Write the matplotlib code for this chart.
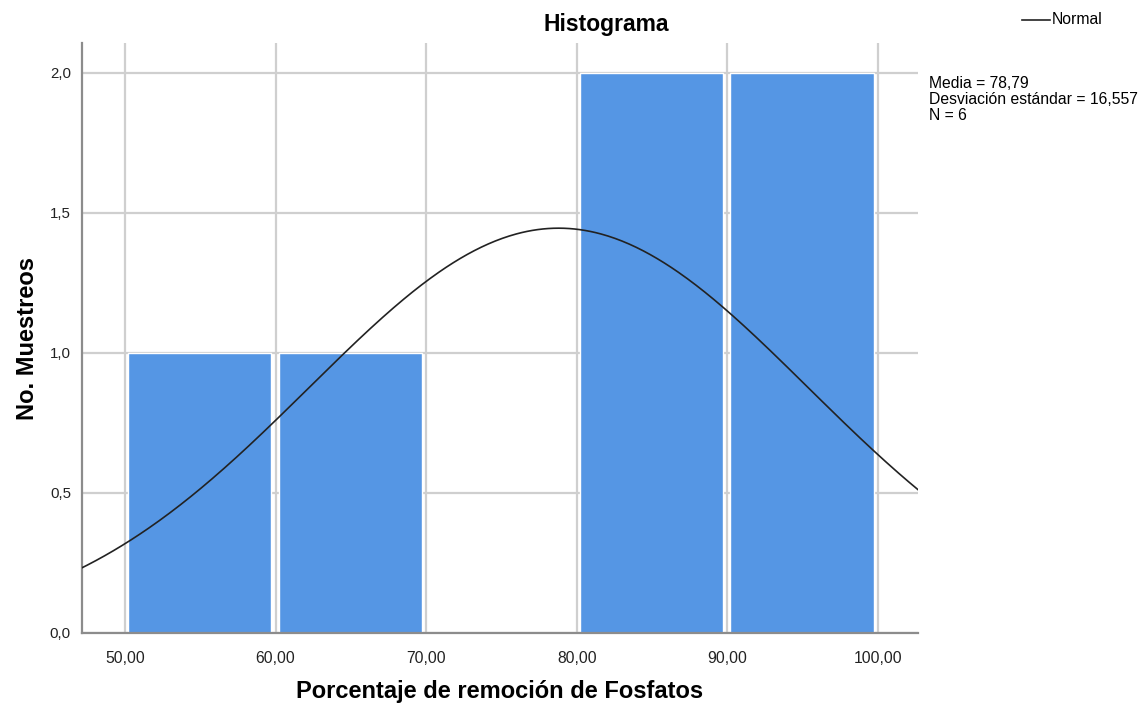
import numpy as np
import matplotlib
matplotlib.use("Agg")
import matplotlib.pyplot as plt
from matplotlib.lines import Line2D
from matplotlib.ticker import FuncFormatter

plt.rcParams['font.family'] = ['Liberation Sans', 'DejaVu Sans']

# Histogram data
bin_edges = [50, 60, 70, 80, 90, 100]
counts = [1, 1, 0, 2, 2]
mean = 78.79
std = 16.557
n = 6

x_ticks = [50, 60, 70, 80, 90, 100]
y_ticks = [0.0, 0.5, 1.0, 1.5, 2.0]

bar_color = '#5596e4'
grid_color = '#cfcfcf'
spine_color = '#8c8c8c'

fig = plt.figure(figsize=(11.43, 7.06), dpi=100)
ax = fig.add_axes([82 / 1143, 73 / 706, (918 - 82) / 1143, (633 - 43) / 706])

ax.set_xlim(47.15, 102.65)
ax.set_ylim(0, 2.107)

# grid behind the bars
ax.set_axisbelow(True)
ax.grid(True, color=grid_color, linewidth=1.6)

# bars, slightly inset inside each bin
lefts = np.array(bin_edges[:-1], dtype=float)
widths = np.diff(bin_edges).astype(float)
ax.bar(lefts + 0.2, counts, width=widths - 0.5, align='edge',
       color=bar_color, edgecolor='white', linewidth=1.0, zorder=2)

# fitted normal curve scaled to counts
bw = widths[0]
xs = np.linspace(40, 110, 600)
ys = n * bw / (std * np.sqrt(2 * np.pi)) * np.exp(-0.5 * ((xs - mean) / std) ** 2)
ax.plot(xs, ys, color='#222222', linewidth=1.2, zorder=3)

ax.set_xticks(x_ticks)
ax.set_yticks(y_ticks)
ax.xaxis.set_major_formatter(FuncFormatter(lambda v, p: f"{v:.2f}".replace('.', ',')))
ax.yaxis.set_major_formatter(FuncFormatter(lambda v, p: f"{v:.1f}".replace('.', ',')))
ax.tick_params(axis='both', length=0, colors='#222222')
ax.tick_params(axis='x', pad=13, labelsize=11.3)
ax.tick_params(axis='y', pad=8, labelsize=10.8)

for side in ['top', 'right']:
    ax.spines[side].set_visible(False)
for side in ['left', 'bottom']:
    ax.spines[side].set_color(spine_color)
    ax.spines[side].set_linewidth(1.6)

ax.set_xlabel('Porcentaje de remoción de Fosfatos', fontsize=17, fontweight='bold',
              labelpad=10)
ax.set_ylabel('No. Muestreos', fontsize=17, fontweight='bold', labelpad=8)

fig.text(606 / 1143, 1 - 25 / 706, 'Histograma', ha='center', va='center',
         fontsize=16.5, fontweight='bold')

# legend entry for the normal curve
fig.add_artist(Line2D([1022 / 1143, 1050 / 1143], [1 - 20 / 706, 1 - 20 / 706],
                      color='#222222', linewidth=1.2))
fig.text(1052 / 1143, 1 - 20 / 706, 'Normal', ha='left', va='center', fontsize=11.3)

# summary statistics
stats = (f"Media = {mean:.2f}".replace('.', ',') + "\n" +
         f"Desviación estándar = {std:.3f}".replace('.', ',') + "\n" +
         f"N = {n}")
fig.text(929 / 1143, 1 - 76 / 706, stats, ha='left', va='top', fontsize=11.3,
         linespacing=1.1)

fig.savefig('out.png', dpi=100, facecolor='white')
